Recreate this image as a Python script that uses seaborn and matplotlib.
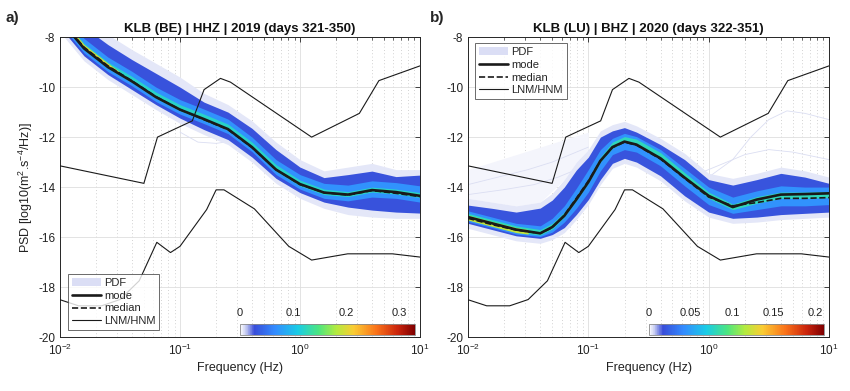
import numpy as np
import pandas as pd
import matplotlib
matplotlib.use("Agg")
import matplotlib.pyplot as plt
import seaborn as sns
from matplotlib.colors import LinearSegmentedColormap, Normalize
from matplotlib.cm import ScalarMappable
from matplotlib.lines import Line2D
from matplotlib.patches import Patch
from matplotlib.ticker import LogLocator, NullFormatter, FixedLocator, FixedFormatter

sns.set_theme(style="white")
plt.rcParams['font.family'] = ['Liberation Sans', 'DejaVu Sans']
plt.rcParams['mathtext.default'] = 'regular'
plt.rcParams['axes.unicode_minus'] = False

# ---------------- data: panel a ----------------
freq_a = [0.01, 0.01585, 0.02512, 0.03981, 0.0631, 0.1, 0.1585, 0.2512, 0.3981,
          0.631, 1.0, 1.585, 2.512, 3.981, 6.31, 10.0]
mode_a = [-7.3, -8.45, -9.2, -9.77, -10.4, -10.9, -11.28, -11.68, -12.4, -13.3,
          -13.88, -14.22, -14.3, -14.12, -14.2, -14.35]
median_a = [-7.3, -8.4, -9.15, -9.75, -10.38, -10.9, -11.3, -11.7, -12.42, -13.3,
            -13.9, -14.22, -14.32, -14.14, -14.25, -14.38]
outer_hi_a = [-6.2, -7.2, -7.9, -8.5, -9.05, -9.6, -10.25, -10.7, -11.35, -12.2,
              -12.9, -13.35, -13.2, -13.05, -13.3, -13.3]
outer_lo_a = [-7.8, -8.95, -9.7, -10.3, -10.9, -11.45, -11.9, -12.3, -13.0, -13.85,
              -14.45, -14.85, -15.1, -15.2, -15.25, -15.25]
blue_hi_a = [-6.6, -7.6, -8.3, -8.9, -9.45, -10.0, -10.6, -11.0, -11.65, -12.5,
             -13.2, -13.62, -13.5, -13.36, -13.58, -13.52]
blue_lo_a = [-7.6, -8.75, -9.5, -10.1, -10.7, -11.24, -11.7, -12.1, -12.8, -13.65,
             -14.22, -14.6, -14.8, -14.92, -15.0, -15.04]
inner_hi_a = [-6.9, -8.05, -8.8, -9.37, -10.0, -10.5, -10.88, -11.28, -12.0, -12.9,
              -13.5, -13.85, -13.92, -13.75, -13.82, -13.95]
inner_lo_a = [-7.48, -8.63, -9.38, -9.95, -10.58, -11.08, -11.46, -11.86, -12.58, -13.5,
              -14.08, -14.45, -14.55, -14.4, -14.45, -14.6]
core_hi_a = [-7.1, -8.25, -9.0, -9.57, -10.2, -10.7, -11.08, -11.48, -12.2, -13.1,
             -13.72, -14.08, -14.18, -14.0, -14.08, -14.22]
core_lo_a = [-7.35, -8.5, -9.25, -9.82, -10.45, -10.95, -11.33, -11.73, -12.45, -13.36,
             -13.95, -14.3, -14.38, -14.2, -14.28, -14.42]
peak_freq_a = [0.01, 0.01585, 0.02512, 0.0316]
peak_hi_a = [-7.15, -8.3, -9.05, -9.4]
peak_lo_a = [-7.3, -8.45, -9.2, -9.5]
trace_freq_a = [0.1, 0.141, 0.2, 0.282]
trace_a = [-11.8, -12.2, -12.25, -12.15]

# ---------------- data: panel b ----------------
freq_b = [0.01, 0.01585, 0.02512, 0.03981, 0.0501, 0.0631, 0.0794, 0.1, 0.1259, 0.1585,
          0.1995, 0.2512, 0.3981, 0.631, 1.0, 1.585, 2.512, 3.981, 6.31, 10.0]
mode_b = [-15.2, -15.45, -15.7, -15.85, -15.6, -15.15, -14.5, -13.8, -12.95, -12.4,
          -12.18, -12.3, -12.85, -13.62, -14.35, -14.8, -14.5, -14.3, -14.28, -14.25]
median_b = [-15.25, -15.5, -15.72, -15.85, -15.62, -15.12, -14.45, -13.75, -12.95, -12.42,
            -12.2, -12.32, -12.88, -13.65, -14.4, -14.75, -14.62, -14.45, -14.45, -14.42]
outer_hi_b = [-14.45, -14.6, -14.75, -14.6, -14.25, -13.7, -13.0, -12.5, -11.75, -11.5,
              -11.37, -11.55, -12.05, -12.65, -13.45, -13.65, -13.45, -13.2, -13.35, -13.6]
outer_lo_b = [-15.65, -15.9, -16.15, -16.25, -16.1, -15.82, -15.3, -14.7, -13.9, -13.25,
              -13.05, -13.2, -13.75, -14.55, -15.2, -15.45, -15.4, -15.3, -15.25, -15.2]
blue_hi_b = [-14.72, -14.85, -15.0, -14.84, -14.52, -14.0, -13.32, -12.8, -12.0, -11.75,
             -11.62, -11.8, -12.3, -12.9, -13.7, -13.92, -13.7, -13.45, -13.6, -13.85]
blue_lo_b = [-15.45, -15.7, -15.95, -16.05, -15.9, -15.62, -15.1, -14.5, -13.7, -13.05,
             -12.85, -13.0, -13.55, -14.35, -15.0, -15.25, -15.2, -15.1, -15.05, -15.0]
inner_hi_b = [-14.95, -15.2, -15.45, -15.55, -15.25, -14.75, -14.05, -13.3, -12.5, -12.05,
              -11.85, -11.98, -12.5, -13.25, -14.0, -14.4, -14.15, -13.95, -14.0, -14.0]
inner_lo_b = [-15.38, -15.62, -15.88, -15.98, -15.8, -15.4, -14.85, -14.2, -13.35, -12.7,
              -12.5, -12.6, -13.15, -13.95, -14.7, -15.05, -14.9, -14.75, -14.75, -14.7]
core_hi_b = [-15.05, -15.3, -15.55, -15.7, -15.45, -15.0, -14.35, -13.65, -12.8, -12.2,
             -11.98, -12.08, -12.62, -13.42, -14.2, -14.68, -14.38, -14.2, -14.2, -14.18]
core_lo_b = [-15.3, -15.55, -15.8, -15.92, -15.68, -15.2, -14.55, -13.85, -13.0, -12.45,
             -12.2, -12.32, -12.88, -13.66, -14.45, -14.9, -14.65, -14.45, -14.45, -14.42]
peak_freq_b = [0.01, 0.01585, 0.02512, 0.0316]
peak_hi_b = [-15.12, -15.38, -15.62, -15.7]
peak_lo_b = [-15.32, -15.57, -15.82, -15.88]
cloud_freq_b = [0.01, 0.01585, 0.02512, 0.03981, 0.0631, 0.0794, 0.1]
cloud_hi_b = [-13.3, -13.0, -12.7, -12.4, -12.1, -11.95, -11.8]
cloud_lo_b = [-14.45, -14.6, -14.75, -14.6, -13.7, -13.0, -12.5]
trace1_freq_b = [1.0, 1.585, 2.24, 3.16, 4.47, 6.31, 10.0]
trace1_b = [-13.6, -12.9, -12.0, -11.3, -10.95, -11.05, -11.3]
trace2_freq_b = [0.79, 1.26, 2.0, 3.16, 5.01, 10.0]
trace2_b = [-13.5, -13.1, -12.7, -12.5, -12.6, -12.9]
trace3_freq_b = [0.01, 0.0178, 0.0316, 0.05, 0.0708, 0.1]
trace3_b = [-13.9, -13.6, -13.3, -13.0, -12.7, -12.4]
trace4_freq_b = [0.01, 0.02, 0.0355, 0.0562, 0.0794]
trace4_b = [-14.3, -14.1, -13.9, -13.6, -13.3]

# ---------------- Peterson noise models ----------------
nhnm_freq = [0.01, 0.05, 0.0649, 0.1266, 0.1587, 0.2174, 0.2632, 1.25, 3.125, 4.545, 10.0]
nhnm_psd = [-13.15, -13.85, -12.00, -11.35, -10.10, -9.65, -9.80, -12.00, -11.05, -9.74, -9.15]
nlnm_freq = [0.0099, 0.01429, 0.0222, 0.0316, 0.0457, 0.0641, 0.0833, 0.1, 0.1667, 0.2,
             0.2326, 0.4167, 0.806, 1.25, 2.5, 5.88, 10.0]
nlnm_psd = [-18.50, -18.75, -18.75, -18.50, -17.75, -16.21, -16.62, -16.37, -14.90, -14.11,
            -14.11, -14.87, -16.37, -16.92, -16.67, -16.67, -16.80]

titles = ["KLB (BE) | HHZ | 2019 (days 321-350)", "KLB (LU) | BHZ | 2020 (days 322-351)"]
panel_labels = ["a)", "b)"]
cbar_max = [0.33, 0.21]
cbar_ticks_a = [0, 0.1, 0.2, 0.3]
cbar_labels_a = ["0", "0.1", "0.2", "0.3"]
cbar_ticks_b = [0, 0.05, 0.1, 0.15, 0.2]
cbar_labels_b = ["0", "0.05", "0.1", "0.15", "0.2"]
level_vals_a = [0.006, 0.03, 0.07, 0.12, 0.2]
level_vals_b = [0.004, 0.02, 0.045, 0.08, 0.12]

# ---------------- colormap ----------------
cmap = LinearSegmentedColormap.from_list("pdf", [
    (0.00, (1.0, 1.0, 1.0)),
    (0.03, (0.80, 0.82, 0.95)),
    (0.08, (0.22, 0.30, 0.85)),
    (0.20, (0.20, 0.55, 1.00)),
    (0.33, (0.10, 0.80, 0.90)),
    (0.45, (0.30, 0.90, 0.50)),
    (0.55, (0.70, 0.92, 0.25)),
    (0.65, (0.98, 0.80, 0.20)),
    (0.78, (0.98, 0.45, 0.10)),
    (0.90, (0.80, 0.15, 0.05)),
    (1.00, (0.50, 0.00, 0.00)),
])

fig = plt.figure(figsize=(8.5, 3.91), dpi=100)
ax_a = fig.add_axes([0.0706, 0.138, 0.4235, 0.767])
ax_b = fig.add_axes([0.5506, 0.138, 0.4247, 0.767])

panels = [
    dict(ax=ax_a, freq=freq_a, mode=mode_a, median=median_a,
         bands=[(outer_lo_a, outer_hi_a), (blue_lo_a, blue_hi_a), (inner_lo_a, inner_hi_a),
                (core_lo_a, core_hi_a)],
         peak=(peak_freq_a, peak_lo_a, peak_hi_a), vals=level_vals_a,
         traces=[(trace_freq_a, trace_a)], cloud=None,
         cticks=cbar_ticks_a, clabels=cbar_labels_a),
    dict(ax=ax_b, freq=freq_b, mode=mode_b, median=median_b,
         bands=[(outer_lo_b, outer_hi_b), (blue_lo_b, blue_hi_b), (inner_lo_b, inner_hi_b),
                (core_lo_b, core_hi_b)],
         peak=(peak_freq_b, peak_lo_b, peak_hi_b), vals=level_vals_b,
         traces=[(trace1_freq_b, trace1_b), (trace2_freq_b, trace2_b),
                 (trace3_freq_b, trace3_b), (trace4_freq_b, trace4_b)],
         cloud=(cloud_freq_b, cloud_lo_b, cloud_hi_b),
         cticks=cbar_ticks_b, clabels=cbar_labels_b),
]

for i, p in enumerate(panels):
    ax = p["ax"]
    norm = Normalize(0, cbar_max[i])
    ax.set_xscale("log")
    ax.set_xlim(0.01, 10)
    ax.set_ylim(-20, -8)
    ax.set_axisbelow(True)

    # PDF density shown as nested probability bands
    if p["cloud"] is not None:
        cf, clo, chi = p["cloud"]
        ax.fill_between(cf, clo, chi, color=(0.955, 0.96, 0.99), lw=0, zorder=1.2)
    for tf, tv in p["traces"]:
        sns.lineplot(x=tf, y=tv, ax=ax, color=(0.86, 0.87, 0.95), lw=0.6,
                     sort=False, estimator=None, zorder=1.3)
    for (lo, hi), v in zip(p["bands"], p["vals"][:4]):
        ax.fill_between(p["freq"], lo, hi, color=cmap(norm(v)), lw=0, zorder=1.5)
    pf, plo, phi = p["peak"]
    ax.fill_between(pf, plo, phi, color=cmap(norm(p["vals"][4])), lw=0, zorder=1.6)

    # noise models
    sns.lineplot(x=nhnm_freq, y=nhnm_psd, ax=ax, color="k", lw=0.8,
                 sort=False, estimator=None, zorder=3)
    sns.lineplot(x=nlnm_freq, y=nlnm_psd, ax=ax, color="k", lw=0.8,
                 sort=False, estimator=None, zorder=3)
    # mode & median
    sns.lineplot(x=p["freq"], y=p["median"], ax=ax, color="k", lw=1.2, linestyle="--",
                 sort=False, estimator=None, zorder=3.5)
    sns.lineplot(x=p["freq"], y=p["mode"], ax=ax, color="k", lw=1.9,
                 sort=False, estimator=None, zorder=3.6)

    ax.set_xlim(0.01, 10)
    ax.set_ylim(-20, -8)

    # ticks & grid (MATLAB-like)
    ax.xaxis.set_major_locator(LogLocator(base=10, numticks=10))
    ax.xaxis.set_minor_locator(LogLocator(base=10, subs=np.arange(2, 10), numticks=20))
    ax.xaxis.set_minor_formatter(NullFormatter())
    yt = [-20, -18, -16, -14, -12, -10, -8]
    ax.yaxis.set_major_locator(FixedLocator(yt))
    ax.yaxis.set_major_formatter(FixedFormatter([str(v) for v in yt]))
    ax.tick_params(which="both", direction="in", top=True, right=True,
                   colors="#262626", labelsize=8.5, labelcolor="#222222")
    ax.tick_params(which="major", length=3.5, width=0.6)
    ax.tick_params(which="minor", length=2, width=0.5)
    ax.tick_params(axis="x", which="major", pad=4)
    ax.grid(True, which="major", color="#dedede", lw=0.6, ls="-")
    ax.grid(True, which="minor", axis="x", color="#c4c4c4", lw=0.6, ls=(0, (1, 3)))
    for s in ax.spines.values():
        s.set_color("#262626")
        s.set_linewidth(0.7)

    ax.set_title(titles[i], fontsize=9.5, fontweight="bold", pad=4, color="#111111")
    ax.set_xlabel("Frequency (Hz)", fontsize=9, color="#222222", labelpad=3)
    ax.set_ylabel("")

    # colorbar inside axes
    cax = ax.inset_axes([0.5, 0.008, 0.486, 0.034])
    cb = fig.colorbar(ScalarMappable(norm=norm, cmap=cmap), cax=cax, orientation="horizontal")
    cb.set_ticks(p["cticks"])
    cb.set_ticklabels(p["clabels"])
    cax.xaxis.set_ticks_position("top")
    cax.tick_params(labelsize=8, length=0, pad=5, labelcolor="#222222")
    cb.outline.set_edgecolor("#888888")
    cb.outline.set_linewidth(0.6)

handles = [Patch(facecolor=(0.86, 0.87, 0.96), edgecolor="none"),
           Line2D([], [], color="k", lw=1.9),
           Line2D([], [], color="k", lw=1.2, ls="--"),
           Line2D([], [], color="k", lw=0.8)]
labels = ["PDF", "mode", "median", "LNM/HNM"]
leg_kw = dict(fontsize=8, frameon=True, fancybox=False, handlelength=2.6,
              handletextpad=0.3, labelspacing=0.25, borderpad=0.35, borderaxespad=0)
leg_a = ax_a.legend(handles, labels, loc="lower left", bbox_to_anchor=(0.022, 0.023), **leg_kw)
leg_b = ax_b.legend(handles, labels, loc="upper left", bbox_to_anchor=(0.02, 0.98), **leg_kw)
for lg in (leg_a, leg_b):
    lg.get_frame().set_edgecolor("#444444")
    lg.get_frame().set_linewidth(0.7)
    lg.set_zorder(10)

ax_a.set_ylabel("PSD [log10(m$^2$.s$^{-4}$/Hz)]", fontsize=9, color="#222222", labelpad=2)

fig.text(0.006, 0.955, panel_labels[0], fontsize=11, fontweight="bold", va="center", ha="left")
fig.text(0.506, 0.955, panel_labels[1], fontsize=11, fontweight="bold", va="center", ha="left")

fig.savefig("out.png", dpi=100, facecolor="white")
